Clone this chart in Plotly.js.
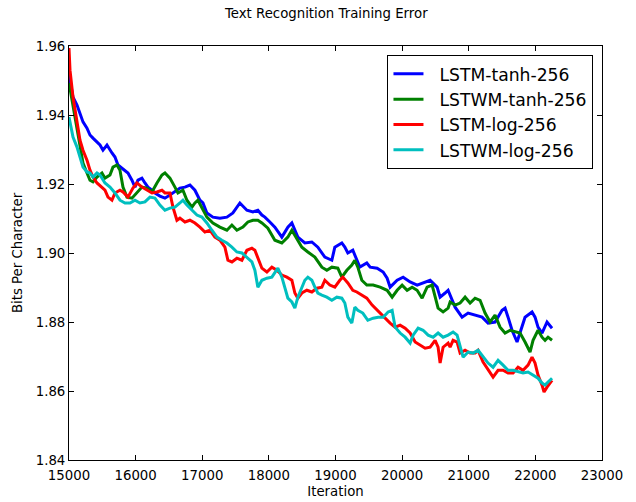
<!DOCTYPE html>
<html>
<head>
<meta charset="utf-8">
<script src="https://cdn.plot.ly/plotly-3.0.1.min.js"></script>
<style>html,body{margin:0;padding:0;background:#fff;}#chart{width:636px;height:502px;}</style>
</head>
<body>
<div id="chart"></div>
<script>
const seriesNames = ["LSTM-tanh-256", "LSTWM-tanh-256", "LSTM-log-256", "LSTWM-log-256"];
const seriesColors = ["#0000ff", "#008000", "#ff0000", "#00bfbf"];
const xTicks = [15000, 16000, 17000, 18000, 19000, 20000, 21000, 22000, 23000];
const yTicks = [1.84, 1.86, 1.88, 1.90, 1.92, 1.94, 1.96];

const lstmTanhIter = [15000,15060,15120,15165,15210,15270,15315,15360,15420,15465,15510,15570,15645,15690,15735,15795,15840,15885,15945,15990,16035,16095,16140,16185,16245,16290,16365,16440,16515,16590,16665,16740,16815,16890,16965,17010,17070,17160,17265,17370,17460,17565,17670,17760,17835,17895,17940,18015,18090,18195,18285,18345,18435,18540,18645,18735,18840,18945,18990,19095,19140,19185,19260,19365,19470,19520,19625,19715,19775,19820,19925,20015,20120,20225,20315,20420,20525,20570,20645,20690,20795,20900,20990,21095,21200,21290,21395,21500,21545,21590,21650,21725,21800,21845,21950,21995,22040,22100,22175,22220,22250];
const lstmTanhBpc = [1.9516,1.9452,1.9429,1.9406,1.9380,1.9362,1.9342,1.9333,1.9322,1.9313,1.9298,1.9313,1.9290,1.9278,1.9255,1.9246,1.9240,1.9232,1.9211,1.9191,1.9211,1.9217,1.9203,1.9191,1.9182,1.9174,1.9165,1.9159,1.9168,1.9177,1.9188,1.9191,1.9197,1.9182,1.9153,1.9145,1.9116,1.9104,1.9101,1.9104,1.9116,1.9145,1.9124,1.9119,1.9124,1.9110,1.9104,1.9090,1.9075,1.9046,1.9075,1.9087,1.9046,1.9029,1.9032,1.9017,1.8988,1.8979,1.9017,1.9029,1.9017,1.9000,1.9008,1.8959,1.8971,1.8959,1.8956,1.8945,1.8927,1.8901,1.8921,1.8930,1.8916,1.8907,1.8913,1.8921,1.8901,1.8872,1.8884,1.8892,1.8843,1.8814,1.8826,1.8820,1.8814,1.8797,1.8800,1.8834,1.8840,1.8814,1.8776,1.8742,1.8785,1.8814,1.8829,1.8814,1.8785,1.8768,1.8800,1.8791,1.8782];

const lstwmTanhIter = [15000,15060,15120,15165,15210,15270,15315,15360,15420,15495,15540,15615,15660,15720,15765,15810,15870,15945,16020,16095,16170,16245,16320,16395,16440,16515,16590,16635,16710,16770,16845,16890,16935,16995,17070,17160,17265,17370,17445,17520,17610,17685,17760,17835,17895,17985,18090,18195,18285,18345,18420,18495,18585,18690,18795,18870,18945,19035,19095,19170,19245,19290,19335,19395,19470,19565,19670,19775,19850,19925,20000,20075,20150,20225,20300,20375,20450,20495,20540,20615,20690,20720,20795,20870,20945,21020,21095,21170,21245,21320,21395,21470,21545,21620,21695,21770,21845,21920,21965,22040,22100,22145,22190,22250];
const lstwmTanhBpc = [1.9493,1.9423,1.9365,1.9307,1.9261,1.9232,1.9211,1.9206,1.9220,1.9232,1.9217,1.9226,1.9249,1.9255,1.9240,1.9191,1.9162,1.9159,1.9174,1.9191,1.9188,1.9177,1.9203,1.9226,1.9232,1.9217,1.9191,1.9174,1.9182,1.9153,1.9133,1.9145,1.9153,1.9133,1.9104,1.9087,1.9075,1.9066,1.9081,1.9066,1.9075,1.9090,1.9095,1.9095,1.9087,1.9072,1.9037,1.9029,1.9046,1.9066,1.9043,1.9017,1.9003,1.8988,1.8959,1.8950,1.8959,1.8956,1.8930,1.8950,1.8965,1.8979,1.8959,1.8921,1.8907,1.8907,1.8901,1.8892,1.8872,1.8892,1.8907,1.8892,1.8901,1.8892,1.8869,1.8901,1.8907,1.8872,1.8840,1.8829,1.8840,1.8858,1.8849,1.8855,1.8872,1.8855,1.8869,1.8863,1.8826,1.8800,1.8820,1.8785,1.8768,1.8776,1.8771,1.8768,1.8742,1.8713,1.8747,1.8776,1.8756,1.8747,1.8756,1.8747];

const lstmLogIter = [15000,15015,15060,15120,15165,15210,15270,15315,15360,15420,15495,15540,15585,15645,15690,15765,15810,15885,15960,16020,16095,16170,16245,16320,16395,16440,16515,16560,16620,16665,16740,16815,16890,16965,17040,17115,17190,17265,17340,17385,17445,17520,17595,17670,17745,17790,17835,17895,17970,18045,18120,18195,18270,18345,18390,18435,18495,18570,18645,18720,18795,18840,18915,18990,19065,19110,19185,19260,19320,19395,19470,19550,19625,19700,19775,19820,19895,19970,20045,20120,20195,20270,20345,20420,20495,20540,20570,20615,20690,20720,20765,20825,20870,20945,21020,21095,21140,21215,21290,21365,21440,21515,21590,21665,21740,21815,21890,21950,21995,22040,22100,22130,22175,22220,22250];
const lstmLogBpc = [1.9594,1.9530,1.9452,1.9385,1.9327,1.9298,1.9269,1.9240,1.9220,1.9203,1.9191,1.9182,1.9162,1.9153,1.9174,1.9182,1.9177,1.9162,1.9188,1.9203,1.9191,1.9182,1.9174,1.9177,1.9182,1.9174,1.9174,1.9133,1.9095,1.9101,1.9090,1.9095,1.9087,1.9075,1.9061,1.9066,1.9046,1.9037,1.9017,1.8979,1.8974,1.8985,1.8979,1.9008,1.9014,1.9008,1.8988,1.8956,1.8945,1.8959,1.8950,1.8936,1.8930,1.8921,1.8884,1.8869,1.8884,1.8892,1.8887,1.8898,1.8901,1.8921,1.8907,1.8901,1.8921,1.8930,1.8913,1.8892,1.8887,1.8878,1.8869,1.8849,1.8834,1.8820,1.8805,1.8797,1.8785,1.8791,1.8782,1.8768,1.8742,1.8733,1.8724,1.8727,1.8747,1.8727,1.8681,1.8727,1.8739,1.8727,1.8747,1.8742,1.8710,1.8718,1.8710,1.8710,1.8718,1.8684,1.8660,1.8640,1.8660,1.8660,1.8652,1.8652,1.8669,1.8660,1.8675,1.8698,1.8681,1.8646,1.8617,1.8597,1.8611,1.8623,1.8631];

const lstwmLogIter = [15000,15015,15060,15120,15165,15210,15270,15315,15360,15420,15465,15540,15615,15690,15765,15840,15915,15990,16065,16140,16215,16290,16365,16440,16515,16590,16665,16710,16770,16845,16920,16995,17070,17145,17220,17295,17370,17445,17520,17595,17670,17745,17790,17835,17895,17970,18045,18090,18135,18195,18240,18285,18345,18390,18435,18495,18540,18585,18645,18690,18735,18795,18870,18945,19020,19095,19140,19185,19245,19290,19335,19410,19485,19565,19640,19715,19790,19850,19895,19970,20045,20120,20165,20240,20315,20390,20465,20540,20615,20690,20765,20825,20870,20915,20990,21065,21140,21215,21290,21365,21440,21515,21590,21665,21740,21815,21890,21965,22040,22100,22145,22190,22250];
const lstwmLogBpc = [1.9394,1.9377,1.9336,1.9307,1.9278,1.9249,1.9235,1.9232,1.9220,1.9232,1.9226,1.9203,1.9191,1.9174,1.9153,1.9145,1.9145,1.9153,1.9145,1.9148,1.9162,1.9159,1.9139,1.9124,1.9130,1.9133,1.9145,1.9153,1.9139,1.9124,1.9110,1.9104,1.9087,1.9066,1.9046,1.9037,1.9029,1.9017,1.9003,1.9000,1.8988,1.8974,1.8950,1.8901,1.8921,1.8927,1.8930,1.8945,1.8956,1.8930,1.8901,1.8869,1.8858,1.8840,1.8872,1.8901,1.8921,1.8930,1.8921,1.8901,1.8884,1.8878,1.8872,1.8863,1.8872,1.8869,1.8855,1.8814,1.8797,1.8843,1.8834,1.8826,1.8805,1.8811,1.8814,1.8814,1.8829,1.8834,1.8785,1.8768,1.8756,1.8739,1.8762,1.8782,1.8776,1.8762,1.8756,1.8768,1.8756,1.8762,1.8771,1.8762,1.8727,1.8698,1.8713,1.8710,1.8718,1.8698,1.8681,1.8669,1.8689,1.8675,1.8660,1.8660,1.8655,1.8652,1.8655,1.8646,1.8637,1.8623,1.8617,1.8626,1.8637];

const xs = [lstmTanhIter, lstwmTanhIter, lstmLogIter, lstwmLogIter];
const ys = [lstmTanhBpc, lstwmTanhBpc, lstmLogBpc, lstwmLogBpc];

// two no-break spaces widen the gap between legend sample line and label, as in the reference
const legendGap = '\u00a0\u00a0';
const traces = seriesNames.map((name, i) => ({
  type: 'scatter', mode: 'lines', name: legendGap + name,
  x: xs[i], y: ys[i],
  line: {color: seriesColors[i], width: 3}
}));

const fam = 'DejaVu Sans, sans-serif';
const layout = {
  width: 636, height: 502,
  margin: {l: 69, r: 34, t: 46, b: 42},
  paper_bgcolor: '#fff', plot_bgcolor: '#fff',
  font: {family: fam, size: 13.3, color: '#000'},
  title: {text: 'Text Recognition Training Error', font: {family: fam, size: 13.3, color: '#000'}, x: 0.513, xanchor: 'center', y: 0.974, yanchor: 'middle'},
  showlegend: true,
  legend: {x: 0.984, xanchor: 'right', y: 0.978, yanchor: 'top', bgcolor: '#fff', bordercolor: '#000', borderwidth: 1, font: {family: fam, size: 17.2, color: '#000'}, itemwidth: 30},
  xaxis: {
    range: [15000, 23000], tickvals: xTicks, ticktext: xTicks.map(String),
    showgrid: false, zeroline: false, showline: true, linecolor: '#000', linewidth: 1, mirror: 'ticks',
    ticks: 'inside', ticklen: 5, tickcolor: '#000', tickfont: {size: 13.3}, ticklabelstandoff: 3,
    title: {text: 'Iteration', font: {size: 13.3}, standoff: 4}
  },
  yaxis: {
    range: [1.84, 1.96], tickvals: yTicks, ticktext: yTicks.map(v => v.toFixed(2)),
    showgrid: false, zeroline: false, showline: true, linecolor: '#000', linewidth: 1, mirror: 'ticks',
    ticks: 'inside', ticklen: 5, tickcolor: '#000', tickfont: {size: 13.3},
    title: {text: 'Bits Per Character', font: {size: 13.3}, standoff: 10}
  }
};

Plotly.newPlot('chart', traces, layout, {displayModeBar: false, staticPlot: true});
</script>
</body>
</html>
